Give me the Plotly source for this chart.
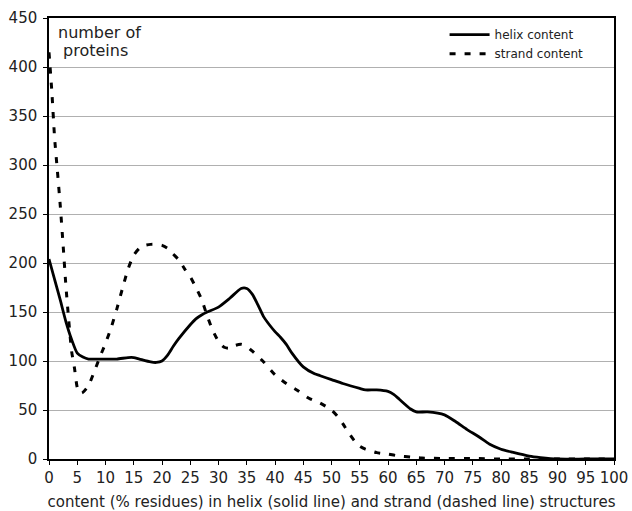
import plotly.graph_objects as go

helix_x = [0, 1, 2, 3, 4, 5, 6, 7, 8, 10, 12, 14, 15, 16, 18, 19, 20, 21, 22, 23, 25, 26, 27, 28, 30, 32, 34, 35, 36, 37, 38, 39, 40, 41, 42, 43, 45, 47, 48, 50, 52, 55, 56, 58, 60, 61, 62, 64, 65, 67, 70, 72, 74, 76, 78, 80, 82, 85, 87, 90, 95, 100]
helix_y = [204, 183, 162, 140, 122, 108, 104, 102, 102, 102, 102, 103.5, 103.5, 102, 99, 98.5, 100, 106, 115, 123, 137, 143, 147, 150, 155, 164, 174, 174, 168, 157, 145, 137, 130, 124, 117, 108, 94, 87, 85, 81, 77, 72, 70.5, 70.5, 69, 66, 61, 51, 48, 48, 45, 38, 30, 23, 15, 10, 7, 3, 1.5, 0, 0, 0]

strand_x = [0, 0.5, 1, 1.5, 2, 2.5, 3, 3.5, 4, 4.5, 5, 5.5, 6, 7, 8, 9, 10, 11, 12, 13, 14, 15, 16, 17, 18, 19, 20, 21, 22, 23, 24, 25, 26, 27, 28, 29, 30, 31, 32, 33, 34, 35, 36, 38, 40, 42, 44, 46, 48, 50, 51, 52, 53, 54, 55, 56, 58, 60, 62, 64, 66, 70, 75, 80, 85, 90, 95, 100]
strand_y = [415, 375, 327, 293, 258, 218, 176, 141, 110, 93, 73, 67, 68, 75, 89, 104, 118, 134, 153, 174, 194, 208, 215, 218, 219, 219, 218, 215, 209, 203, 194, 186, 175, 163, 146, 131, 120, 114, 113, 116, 117, 115, 110, 99, 86, 77, 70, 62, 57, 50, 44, 36, 27, 19, 13, 10, 6.5, 5, 3, 2, 1, 0.5, 0.5, 0, 0, 0, 0, 0]

x_ticks = list(range(0, 101, 5))
y_ticks = list(range(0, 451, 50))

FONT = "DejaVu Sans"

fig = go.Figure()
fig.add_trace(go.Scatter(x=helix_x, y=helix_y, mode="lines", name="helix content",
                         line=dict(color="black", width=2.8, shape="spline", smoothing=0.6)))
fig.add_trace(go.Scatter(x=strand_x, y=strand_y, mode="lines", name="strand content",
                         line=dict(color="black", width=3, dash="6px,9px", shape="spline", smoothing=0.6)))

fig.update_layout(
    width=632, height=511,
    margin=dict(l=49, r=18, t=18, b=52),
    paper_bgcolor="white", plot_bgcolor="white",
    font=dict(family=FONT, size=15, color="#222"),
    showlegend=True,
    legend=dict(x=0.955, y=0.995, xanchor="right", yanchor="top",
                bgcolor="rgba(0,0,0,0)", font=dict(size=12), tracegroupgap=0,
                itemwidth=40),
    xaxis=dict(range=[0, 100], tickvals=x_ticks, ticktext=[str(v) for v in x_ticks],
               automargin=False,
               showgrid=False, zeroline=False, showline=True, linecolor="black", linewidth=1.5,
               mirror=True, ticks="outside", ticklen=4, tickcolor="black",
               title=dict(text="content (% residues) in helix (solid line) and strand (dashed line) structures",
                          font=dict(size=15))),
    yaxis=dict(range=[0, 450], tickvals=y_ticks, ticktext=[str(v) for v in y_ticks],
               automargin=False,
               showgrid=True, gridcolor="#b0b0b0", gridwidth=1, zeroline=False,
               showline=True, linecolor="black", linewidth=1.5, mirror=True,
               ticks="outside", ticklen=4, tickcolor="black", ticklabelstandoff=3),
    annotations=[
        dict(text="number of", xref="paper", yref="paper",
             x=(56 - 49) / 565, y=1 - (32 - 18) / 441, xanchor="left", yanchor="middle",
             showarrow=False, font=dict(size=16)),
        dict(text="proteins", xref="paper", yref="paper",
             x=(61 - 49) / 565, y=1 - (51 - 18) / 441, xanchor="left", yanchor="middle",
             showarrow=False, font=dict(size=16)),
    ],
)

fig.write_html("out.html", config={"displayModeBar": False},
               post_script="document.body.style.margin='0';document.body.style.padding='0';document.body.style.overflow='hidden';")
